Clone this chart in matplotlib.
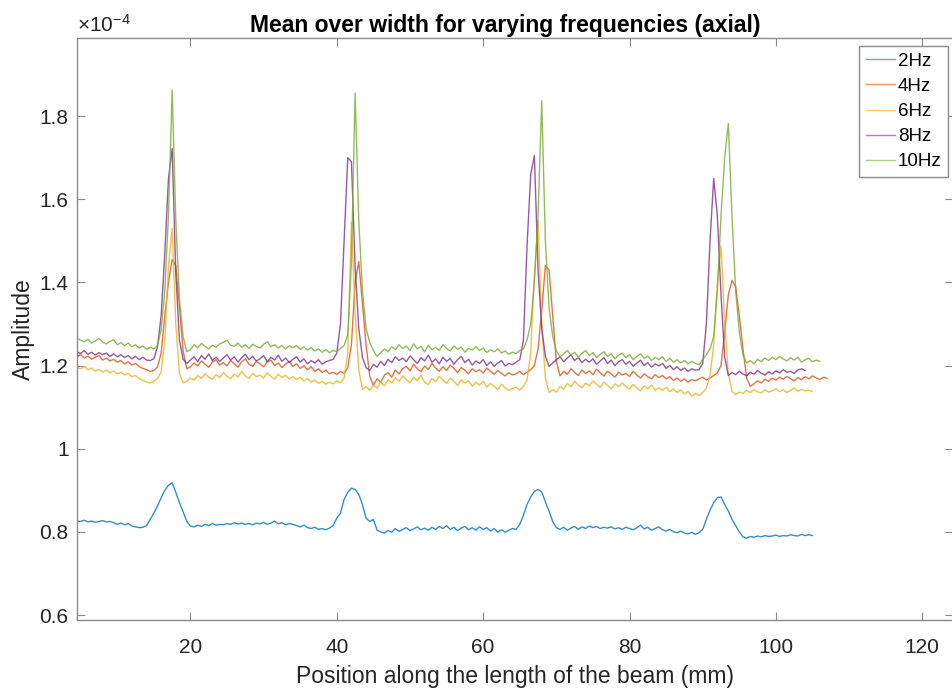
# mean_over_width_axial.py
# Mean amplitude over the beam width, axial direction, for several drive frequencies

import numpy as np
import matplotlib.pyplot as plt

plt.rcParams["font.family"] = ["Liberation Sans", "DejaVu Sans"]
plt.rcParams["mathtext.default"] = "regular"

# -------------------------------
# 1. Data (amplitude in units of 1e-4, sampled every 0.5 mm)
# -------------------------------
x_start = 4.5
x_step = 0.5

amp_2hz = [
    0.826, 0.825, 0.828, 0.824, 0.826, 0.823, 0.825, 0.827, 0.824, 0.825,
    0.822, 0.818, 0.821, 0.817, 0.820, 0.814, 0.812, 0.810, 0.811, 0.815,
    0.830, 0.845, 0.862, 0.882, 0.900, 0.912, 0.918, 0.895, 0.870, 0.848,
    0.825, 0.814, 0.812, 0.816, 0.813, 0.818, 0.815, 0.820, 0.816, 0.818,
    0.817, 0.820, 0.818, 0.822, 0.819, 0.821, 0.818, 0.820, 0.817, 0.821,
    0.819, 0.823, 0.818, 0.821, 0.826, 0.819, 0.822, 0.817, 0.820, 0.818,
    0.815, 0.812, 0.816, 0.810, 0.808, 0.811, 0.806, 0.808, 0.805, 0.809,
    0.815, 0.833, 0.845, 0.878, 0.895, 0.905, 0.902, 0.890, 0.866, 0.833,
    0.825, 0.830, 0.804, 0.800, 0.797, 0.803, 0.799, 0.808, 0.801, 0.806,
    0.810, 0.803, 0.807, 0.812, 0.805, 0.809, 0.804, 0.811, 0.806, 0.813,
    0.808, 0.815, 0.806, 0.811, 0.803, 0.809, 0.813, 0.805, 0.810, 0.804,
    0.812, 0.806, 0.810, 0.802, 0.808, 0.800, 0.805, 0.799, 0.804, 0.808,
    0.806, 0.818, 0.840, 0.866, 0.884, 0.897, 0.902, 0.896, 0.872, 0.850,
    0.825, 0.810, 0.806, 0.811, 0.804, 0.809, 0.813, 0.806, 0.812, 0.808,
    0.814, 0.810, 0.813, 0.808, 0.811, 0.809, 0.812, 0.807, 0.810, 0.806,
    0.811, 0.808, 0.805, 0.810, 0.816, 0.807, 0.811, 0.804, 0.808, 0.812,
    0.805, 0.802, 0.806, 0.800, 0.798, 0.802, 0.797, 0.795, 0.799, 0.794,
    0.798, 0.806, 0.830, 0.852, 0.870, 0.882, 0.884, 0.866, 0.850, 0.830,
    0.815, 0.800, 0.788, 0.785, 0.789, 0.787, 0.790, 0.788, 0.791, 0.789,
    0.790, 0.792, 0.789, 0.791, 0.790, 0.793, 0.791, 0.790, 0.794, 0.791,
    0.793, 0.791,
]

amp_4hz = [
    1.222, 1.226, 1.218, 1.223, 1.215, 1.220, 1.224, 1.213, 1.218, 1.211,
    1.215, 1.208, 1.212, 1.204, 1.209, 1.201, 1.205, 1.197, 1.193, 1.190,
    1.186, 1.188, 1.196, 1.230, 1.320, 1.400, 1.455, 1.440, 1.340, 1.235,
    1.192, 1.197, 1.206, 1.199, 1.211, 1.203, 1.196, 1.208, 1.214, 1.201,
    1.207, 1.199, 1.212, 1.204, 1.196, 1.209, 1.216, 1.203, 1.198, 1.210,
    1.204, 1.197, 1.208, 1.213, 1.200, 1.206, 1.195, 1.203, 1.210, 1.198,
    1.204, 1.193, 1.199, 1.190, 1.197, 1.186, 1.192, 1.183, 1.189, 1.180,
    1.184, 1.178, 1.186, 1.181, 1.195, 1.250, 1.400, 1.450, 1.350, 1.250,
    1.175, 1.152, 1.168, 1.160, 1.176, 1.183, 1.172, 1.189, 1.180, 1.192,
    1.198, 1.187, 1.203, 1.192, 1.185, 1.199, 1.190, 1.205, 1.194, 1.186,
    1.197, 1.188, 1.201, 1.193, 1.183, 1.195, 1.189, 1.180, 1.192, 1.185,
    1.190, 1.182, 1.194, 1.186, 1.179, 1.188, 1.181, 1.175, 1.183, 1.177,
    1.180, 1.186, 1.178, 1.184, 1.190, 1.200, 1.240, 1.330, 1.440, 1.430,
    1.320, 1.210, 1.175, 1.186, 1.179, 1.192, 1.183, 1.176, 1.189, 1.181,
    1.187, 1.178, 1.191, 1.183, 1.175, 1.186, 1.180, 1.172, 1.184, 1.177,
    1.181, 1.174, 1.186, 1.177, 1.170, 1.180, 1.173, 1.168, 1.178, 1.171,
    1.176, 1.168, 1.173, 1.164, 1.170, 1.162, 1.168, 1.160, 1.166, 1.163,
    1.168, 1.172, 1.165, 1.170, 1.176, 1.182, 1.200, 1.280, 1.370, 1.405,
    1.390, 1.320, 1.240, 1.170, 1.150, 1.156, 1.163, 1.158, 1.167, 1.162,
    1.170, 1.165, 1.172, 1.167, 1.174, 1.168, 1.163, 1.171, 1.166, 1.173,
    1.168, 1.175, 1.170, 1.166, 1.172, 1.169,
]

amp_6hz = [
    1.196, 1.192, 1.198, 1.190, 1.194, 1.186, 1.191, 1.184, 1.189, 1.182,
    1.187, 1.180, 1.184, 1.177, 1.181, 1.173, 1.176, 1.168, 1.164, 1.160,
    1.158, 1.162, 1.168, 1.185, 1.260, 1.440, 1.530, 1.300, 1.180, 1.158,
    1.162, 1.170, 1.165, 1.176, 1.169, 1.180, 1.172, 1.167, 1.178, 1.171,
    1.183, 1.174, 1.168, 1.179, 1.172, 1.186, 1.175, 1.169, 1.181, 1.173,
    1.177, 1.170, 1.182, 1.174, 1.167, 1.179, 1.171, 1.176, 1.168, 1.173,
    1.166, 1.172, 1.163, 1.169, 1.160, 1.165, 1.157, 1.162, 1.155, 1.160,
    1.156, 1.163, 1.158, 1.170, 1.230, 1.545, 1.330, 1.190, 1.142, 1.150,
    1.140, 1.153, 1.146, 1.160, 1.151, 1.166, 1.158, 1.170, 1.162, 1.175,
    1.166, 1.158, 1.172, 1.163, 1.176, 1.160, 1.154, 1.169, 1.161, 1.174,
    1.165, 1.157, 1.170, 1.161, 1.152, 1.166, 1.158, 1.163, 1.150, 1.160,
    1.153, 1.162, 1.148, 1.157, 1.150, 1.142, 1.155, 1.146, 1.140, 1.145,
    1.148, 1.141, 1.150, 1.165, 1.230, 1.420, 1.548, 1.300, 1.170, 1.135,
    1.142, 1.136, 1.150, 1.143, 1.157, 1.149, 1.162, 1.153, 1.146, 1.158,
    1.151, 1.163, 1.155, 1.147, 1.160, 1.152, 1.144, 1.156, 1.149, 1.158,
    1.150, 1.143, 1.155, 1.146, 1.139, 1.151, 1.144, 1.153, 1.141, 1.147,
    1.140, 1.148, 1.137, 1.144, 1.135, 1.141, 1.132, 1.138, 1.126, 1.133,
    1.128, 1.135, 1.145, 1.175, 1.250, 1.400, 1.488, 1.300, 1.180, 1.138,
    1.130, 1.136, 1.133, 1.140, 1.135, 1.142, 1.137, 1.134, 1.141, 1.136,
    1.139, 1.144, 1.137, 1.142, 1.135, 1.140, 1.146, 1.138, 1.143, 1.139,
    1.141, 1.137,
]

amp_8hz = [
    1.233, 1.229, 1.236, 1.227, 1.232, 1.225, 1.231, 1.226, 1.230, 1.222,
    1.228, 1.221, 1.226, 1.219, 1.224, 1.216, 1.222, 1.214, 1.220, 1.213,
    1.212, 1.216, 1.245, 1.320, 1.470, 1.650, 1.722, 1.420, 1.260, 1.215,
    1.205, 1.213, 1.221, 1.209, 1.224, 1.215, 1.228, 1.212, 1.220, 1.210,
    1.218, 1.226, 1.213, 1.221, 1.208, 1.219, 1.227, 1.214, 1.222, 1.211,
    1.216, 1.224, 1.209, 1.220, 1.213, 1.225, 1.210, 1.218, 1.207, 1.215,
    1.221, 1.208, 1.216, 1.204, 1.212, 1.206, 1.214, 1.203, 1.209, 1.212,
    1.215, 1.230, 1.300, 1.500, 1.700, 1.690, 1.440, 1.290, 1.220, 1.195,
    1.188, 1.203, 1.196, 1.210, 1.200, 1.215, 1.207, 1.221, 1.212, 1.218,
    1.209, 1.223, 1.214, 1.205, 1.219, 1.211, 1.225, 1.208, 1.216, 1.204,
    1.220, 1.210, 1.217, 1.203, 1.214, 1.222, 1.207, 1.215, 1.201, 1.211,
    1.205, 1.214, 1.200, 1.209, 1.198, 1.206, 1.212, 1.199, 1.205, 1.202,
    1.208, 1.214, 1.260, 1.490, 1.660, 1.705, 1.430, 1.290, 1.222, 1.198,
    1.206, 1.214, 1.221, 1.209, 1.218, 1.226, 1.212, 1.219, 1.207, 1.215,
    1.208, 1.216, 1.203, 1.211, 1.219, 1.205, 1.213, 1.200, 1.209, 1.214,
    1.203, 1.210, 1.198, 1.206, 1.213, 1.200, 1.207, 1.196, 1.204, 1.199,
    1.205, 1.193, 1.200, 1.190, 1.197, 1.188, 1.194, 1.186, 1.192, 1.189,
    1.190, 1.205, 1.300, 1.500, 1.650, 1.560, 1.370, 1.220, 1.176, 1.183,
    1.178, 1.186, 1.180, 1.175, 1.184, 1.179, 1.188, 1.181, 1.177, 1.185,
    1.180, 1.187, 1.182, 1.190, 1.184, 1.186, 1.181, 1.189, 1.192, 1.188,
]

amp_10hz = [
    1.266, 1.261, 1.257, 1.263, 1.254, 1.259, 1.265, 1.256, 1.252, 1.258,
    1.262, 1.250, 1.255, 1.248, 1.254, 1.245, 1.250, 1.242, 1.247, 1.239,
    1.244, 1.240, 1.248, 1.285, 1.380, 1.560, 1.862, 1.550, 1.360, 1.270,
    1.233, 1.238, 1.250, 1.243, 1.253, 1.246, 1.240, 1.249, 1.244, 1.252,
    1.256, 1.261, 1.249, 1.246, 1.254, 1.244, 1.250, 1.241, 1.251, 1.246,
    1.242, 1.251, 1.257, 1.245, 1.250, 1.242, 1.248, 1.240, 1.247, 1.243,
    1.248, 1.239, 1.245, 1.237, 1.243, 1.235, 1.240, 1.232, 1.238, 1.231,
    1.236, 1.233, 1.241, 1.248, 1.275, 1.450, 1.855, 1.550, 1.380, 1.290,
    1.255, 1.236, 1.222, 1.231, 1.240, 1.233, 1.245, 1.238, 1.250, 1.241,
    1.247, 1.236, 1.252, 1.240, 1.246, 1.233, 1.249, 1.238, 1.244, 1.236,
    1.250, 1.241, 1.235, 1.247, 1.239, 1.244, 1.232, 1.241, 1.237, 1.245,
    1.236, 1.242, 1.231, 1.238, 1.233, 1.240, 1.230, 1.235, 1.227, 1.232,
    1.229, 1.236, 1.240, 1.262, 1.300, 1.400, 1.560, 1.837, 1.500, 1.340,
    1.270, 1.235, 1.221, 1.228, 1.236, 1.225, 1.232, 1.220, 1.229, 1.236,
    1.224, 1.231, 1.219, 1.227, 1.233, 1.222, 1.228, 1.216, 1.225, 1.230,
    1.219, 1.226, 1.214, 1.222, 1.228, 1.217, 1.223, 1.212, 1.220, 1.214,
    1.221, 1.210, 1.217, 1.208, 1.214, 1.206, 1.212, 1.204, 1.210, 1.205,
    1.202, 1.214, 1.226, 1.240, 1.270, 1.380, 1.560, 1.700, 1.782, 1.560,
    1.380, 1.280, 1.225, 1.206, 1.212, 1.204, 1.215, 1.209, 1.218, 1.212,
    1.220, 1.214, 1.222, 1.216, 1.211, 1.219, 1.213, 1.220, 1.208, 1.214,
    1.217, 1.209, 1.213, 1.210,
]

series = [
    ("2Hz", amp_2hz, "#0072BD"),
    ("4Hz", amp_4hz, "#D95319"),
    ("6Hz", amp_6hz, "#EDB120"),
    ("8Hz", amp_8hz, "#7E2F8E"),
    ("10Hz", amp_10hz, "#77AC30"),
]

# -------------------------------
# 2. Plot
# -------------------------------
fig = plt.figure(figsize=(9.52, 6.89), dpi=100)
ax = fig.add_axes([77 / 952, 69 / 689, (953 - 77) / 952, (620 - 38) / 689])

for label, amp, color in series:
    pos = x_start + x_step * np.arange(len(amp))
    ax.plot(pos, amp, color=color, linewidth=1.0, alpha=0.8, label=label)

ax.set_xlim(4.5, 124.2)
ax.set_ylim(0.588, 1.9876)
ax.set_xticks([20, 40, 60, 80, 100, 120])
ax.set_yticks([0.6, 0.8, 1.0, 1.2, 1.4, 1.6, 1.8])
ax.set_yticklabels(["0.6", "0.8", "1", "1.2", "1.4", "1.6", "1.8"])

axis_gray = "#8a8a8a"
for spine in ax.spines.values():
    spine.set_color(axis_gray)
    spine.set_linewidth(1.0)
ax.tick_params(direction="in", length=6, width=0.8, color=axis_gray,
               labelcolor="#262626", labelsize=15, top=True, right=True)
ax.tick_params(axis="y", pad=6)
ax.tick_params(axis="x", pad=13)

ax.set_xlabel("Position along the length of the beam (mm)", fontsize=16.5,
              color="#262626", labelpad=6)
ax.set_ylabel("Amplitude", fontsize=16.5, color="#262626", labelpad=3)
ax.set_title("Mean over width for varying frequencies (axial)", fontsize=16.5,
             fontweight="bold", pad=4, x=0.489)
ax.text(0.0, 1.004, r"$\times10^{-4}$", transform=ax.transAxes,
        fontsize=15, color="#262626", ha="left", va="bottom")

leg = ax.legend(loc="upper right", bbox_to_anchor=(948 / 952, 1 - 46 / 689),
                bbox_transform=fig.transFigure, borderaxespad=0,
                fontsize=13.5, fancybox=False, framealpha=1,
                edgecolor=axis_gray, labelspacing=0.43, handlelength=1.55,
                handletextpad=0.15, borderpad=0.35)
leg.get_frame().set_linewidth(1.0)
for line in leg.get_lines():
    line.set_alpha(0.6)

fig.savefig("out.png", dpi=100)
